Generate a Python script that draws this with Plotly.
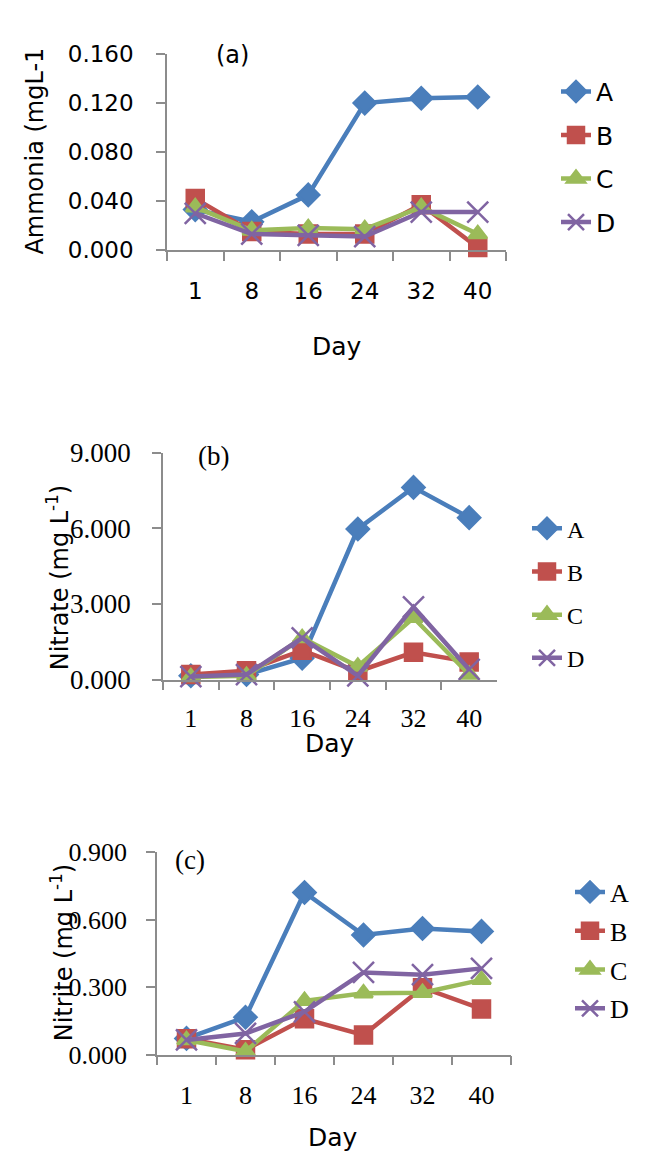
import plotly.graph_objects as go

# page is 659x1175 with the browser's 8px body margin, so the figure is a bit smaller
W, H = 643, 1159
OFF = 8

# data
days = ["1", "8", "16", "24", "32", "40"]
series = ["A", "B", "C", "D"]

ammonia_A = [0.033, 0.023, 0.045, 0.120, 0.124, 0.125]
ammonia_B = [0.042, 0.015, 0.013, 0.013, 0.037, 0.002]
ammonia_C = [0.035, 0.016, 0.018, 0.017, 0.035, 0.013]
ammonia_D = [0.030, 0.013, 0.012, 0.011, 0.031, 0.031]

nitrate_A = [0.15, 0.20, 0.85, 5.97, 7.62, 6.42]
nitrate_B = [0.20, 0.35, 1.16, 0.32, 1.08, 0.70]
nitrate_C = [0.10, 0.15, 1.65, 0.52, 2.45, 0.20]
nitrate_D = [0.12, 0.20, 1.65, 0.15, 2.88, 0.40]

nitrite_A = [0.072, 0.166, 0.720, 0.531, 0.560, 0.547]
nitrite_B = [0.070, 0.022, 0.159, 0.087, 0.297, 0.203]
nitrite_C = [0.065, 0.014, 0.239, 0.272, 0.275, 0.332]
nitrite_D = [0.065, 0.094, 0.190, 0.365, 0.355, 0.383]

colors = {"A": "#4A7EBB", "B": "#C0504D", "C": "#9BBB59", "D": "#8064A2"}
symbols = {"A": "diamond", "B": "square", "C": "triangle-up", "D": "x-thin"}
sizes = {"A": 17, "B": 17, "C": 16, "D": 21}

SANS = "DejaVu Sans"
SERIF = "Liberation Serif"


# pixel positions in the reference -> paper coords
def px(x):
    return (x - OFF) / W


def py(y):
    return 1 - (y - OFF) / H


fig = go.Figure()

panels = [
    ("", "legend", [ammonia_A, ammonia_B, ammonia_C, ammonia_D]),
    ("2", "legend2", [nitrate_A, nitrate_B, nitrate_C, nitrate_D]),
    ("3", "legend3", [nitrite_A, nitrite_B, nitrite_C, nitrite_D]),
]

for ax, leg, vals in panels:
    for name, y in zip(series, vals):
        fig.add_trace(go.Scatter(
            x=days, y=y, name=name, mode="lines+markers",
            xaxis="x" + ax, yaxis="y" + ax, legend=leg,
            legendgroup=leg + name, cliponaxis=False,
            line=dict(color=colors[name], width=4.5),
            marker=dict(symbol=symbols[name], size=sizes[name], color=colors[name],
                        line=dict(color=colors[name], width=2.5)),
        ))

axis_common = dict(showline=True, linecolor="#8c8c8c", linewidth=1.5,
                   showgrid=False, zeroline=False, ticks="outside",
                   tickcolor="#8c8c8c", tickwidth=1.5, ticklen=9)

fig.update_layout(
    width=W, height=H, margin=dict(l=0, r=0, t=0, b=0),
    paper_bgcolor="white", plot_bgcolor="white",
    # (a) ammonia
    xaxis=dict(domain=[px(167), px(506)], anchor="y", type="category",
               tickson="boundaries", range=[-0.5, 5.5], ticklabelstandoff=20,
               tickfont=dict(family=SANS, size=23, color="black"), **axis_common),
    yaxis=dict(domain=[py(241), py(40)], anchor="x", range=[0, 0.16], dtick=0.04,
               tickformat=".3f", ticklabelstandoff=18,
               tickfont=dict(family=SANS, size=23, color="black"), **axis_common),
    # (b) nitrate
    xaxis2=dict(domain=[px(163), px(497)], anchor="y2", type="category",
                tickson="boundaries", range=[-0.5, 5.5], ticklabelstandoff=14,
                tickfont=dict(family=SERIF, size=26, color="black"), **axis_common),
    yaxis2=dict(domain=[py(682), py(449)], anchor="x2", range=[0, 9], dtick=3,
                tickformat=".3f", ticklabelstandoff=16,
                tickfont=dict(family=SERIF, size=27, color="black"), **axis_common),
    # (c) nitrite
    xaxis3=dict(domain=[px(157), px(511)], anchor="y3", type="category",
                tickson="boundaries", range=[-0.5, 5.5], ticklabelstandoff=16,
                tickfont=dict(family=SERIF, size=26, color="black"), **axis_common),
    yaxis3=dict(domain=[py(1067), py(859)], anchor="x3", range=[0, 0.9], dtick=0.3,
                tickformat=".3f", ticklabelstandoff=14,
                tickfont=dict(family=SERIF, size=26, color="black"), **axis_common),
    legend=dict(x=px(556), y=py(55), xanchor="left", yanchor="top",
                traceorder="grouped", tracegroupgap=8,
                font=dict(family=SANS, size=25, color="black")),
    legend2=dict(x=px(527), y=py(504), xanchor="left", yanchor="top",
                 traceorder="grouped", tracegroupgap=9,
                 font=dict(family=SERIF, size=24, color="black")),
    legend3=dict(x=px(570), y=py(876), xanchor="left", yanchor="top",
                 traceorder="grouped", tracegroupgap=2,
                 font=dict(family=SERIF, size=26, color="black")),
    showlegend=True,
)

notes = [
    ("(a)", 232, 41, SANS, 24, 0),
    ("Ammonia (mgL-1", 35, 140, SANS, 24, -90),
    ("Day", 337, 340, SANS, 25, 0),
    ("(b)", 213, 453, SERIF, 27, 0),
    ("Nitrate (mg L<sup>-1</sup>)", 58, 577, SANS, 24, -90),
    ("Day", 330, 748, SANS, 25, 0),
    ("(c)", 190, 867, SERIF, 27, 0),
    ("Nitrite (mg L<sup>-1</sup>)", 62, 963, SANS, 24, -90),
    ("Day", 333, 1152, SANS, 25, 0),
]
for text, x, y, fam, size, ang in notes:
    fig.add_annotation(text=text, x=px(x), y=py(y), xref="paper", yref="paper",
                       showarrow=False, textangle=ang, xanchor="center", yanchor="middle",
                       font=dict(family=fam, size=size, color="black"))

fig.write_html("out.html")
